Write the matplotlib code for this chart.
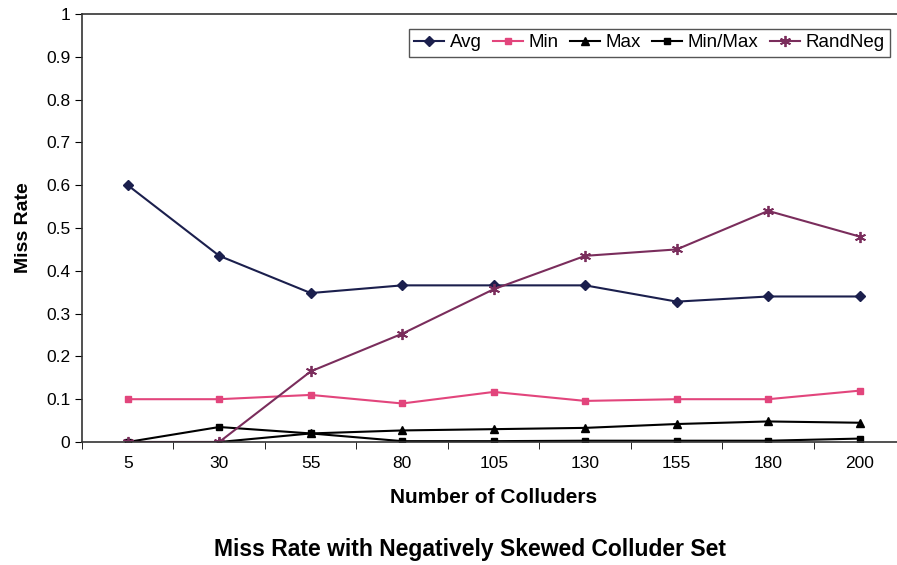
import matplotlib.pyplot as plt
import numpy as np

plt.rcParams['font.family'] = ['Liberation Sans', 'DejaVu Sans']

colluders = ["5", "30", "55", "80", "105", "130", "155", "180", "200"]
avg = [0.60, 0.435, 0.348, 0.366, 0.366, 0.366, 0.328, 0.340, 0.340]
min_rate = [0.100, 0.100, 0.110, 0.090, 0.117, 0.096, 0.100, 0.100, 0.120]
max_rate = [0.0, 0.0, 0.020, 0.027, 0.030, 0.033, 0.042, 0.048, 0.045]
minmax = [0.0, 0.035, 0.020, 0.002, 0.002, 0.003, 0.003, 0.003, 0.008]
randneg = [0.0, 0.0, 0.165, 0.253, 0.357, 0.435, 0.450, 0.540, 0.480]

fig = plt.figure(figsize=(8.97, 5.65), dpi=100)
ax = fig.add_axes([0.0914, 0.2177, 0.918, 0.7575])
x = np.arange(len(colluders))

ax.plot(x, avg, color='#1b1f4d', marker='D', markersize=5, lw=1.5, label='Avg')
ax.plot(x, min_rate, color='#e2457c', marker='s', markersize=5, lw=1.5, label='Min')
ax.plot(x, max_rate, color='black', marker='^', markersize=6, lw=1.5, label='Max')
ax.plot(x, minmax, color='black', marker='s', markersize=5, lw=1.5, label='Min/Max')
ax.plot(x, randneg, color='#7a2d5c', marker=(6, 2, 0), markersize=8, mew=1.3, lw=1.5,
        label='RandNeg')

ax.set_xlim(-0.5, len(colluders) - 0.5)
ax.set_ylim(0, 1)
ax.set_yticks(np.arange(0, 1.01, 0.1))
ax.set_yticklabels(['0', '0.1', '0.2', '0.3', '0.4', '0.5', '0.6', '0.7', '0.8', '0.9', '1'])
ax.set_xticks(x)
ax.set_xticklabels(colluders)
ax.set_xticks(np.arange(-0.5, len(colluders), 1), minor=True)
ax.tick_params(axis='x', which='major', length=0, pad=10, labelsize=12.5)
ax.tick_params(axis='x', which='minor', length=5, direction='out')
ax.tick_params(axis='y', length=5, direction='out', labelsize=12.5)

for s in ax.spines.values():
    s.set_color('#333333')
    s.set_linewidth(1.2)

ax.set_ylabel('Miss Rate', fontsize=14, fontweight='bold', labelpad=10)
ax.set_xlabel('Number of Colluders', fontsize=15, fontweight='bold', labelpad=12)
fig.text(0.524, 0.027, 'Miss Rate with Negatively Skewed Colluder Set',
         fontsize=16.5, fontweight='bold', ha='center', va='center')

leg = ax.legend(loc='upper right', bbox_to_anchor=(0.993, 0.988), ncol=5, fontsize=13.5,
                handlelength=1.6, handletextpad=0.3, columnspacing=0.6,
                borderpad=0.3, fancybox=False, framealpha=1, edgecolor='#555555')
leg.get_frame().set_linewidth(1.0)

fig.savefig('out.png', dpi=100)
